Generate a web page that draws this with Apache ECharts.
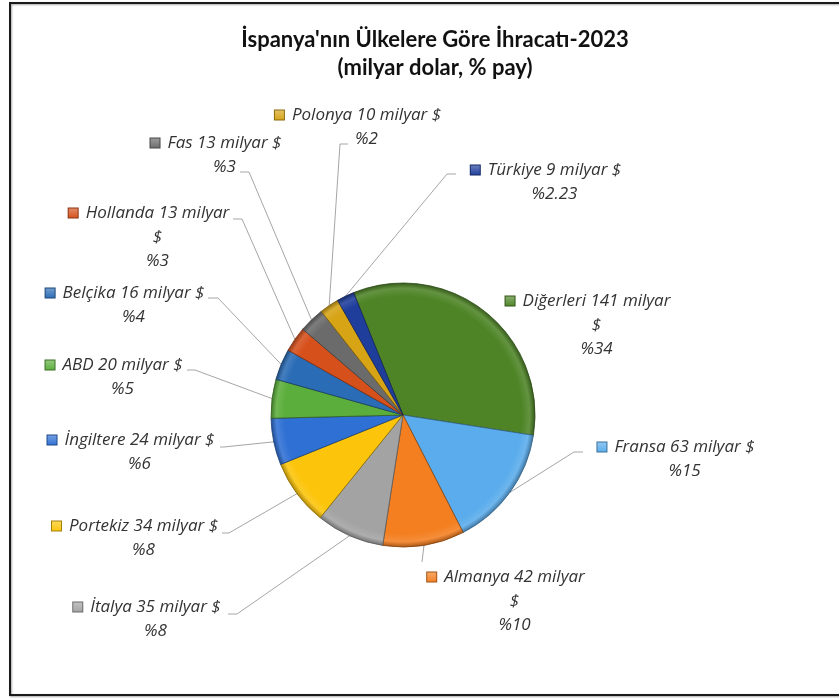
<!DOCTYPE html>
<html>
<head>
<meta charset="utf-8">
<style>
  html, body { margin: 0; padding: 0; background: #fff; }
  #chart { width: 839px; height: 700px; }
</style>
<script src="https://cdn.jsdelivr.net/npm/echarts@6/dist/echarts.min.js"></script>
</head>
<body>
<div id="chart"></div>
<script>
// veriler
const countries = ['Diğerleri', 'Fransa', 'Almanya', 'İtalya', 'Portekiz', 'İngiltere', 'ABD', 'Belçika', 'Hollanda', 'Fas', 'Polonya', 'Türkiye'];
const exportsBn = [141, 63, 42, 35, 34, 24, 20, 16, 13, 13, 10, 9];
const shareLabels = ['34', '15', '10', '8', '8', '6', '5', '4', '3', '3', '2', '2.23'];
const wrapped = ['Diğerleri', 'Almanya', 'Hollanda'];

const colors = ['#4e8426', '#5aacec', '#f47f20', '#a3a3a3', '#fcc40a', '#2f70d4', '#5cae3c', '#2a6cb6', '#d6501c', '#6b6b6b', '#d7a416', '#1f3e9c'];

// etiket yerleşimi (blok merkezi x, üst y) ve kılavuz çizgi uçları
const labelPos = [[588, 289], [676, 435], [506, 565], [147, 595], [135, 514], [131, 428], [114, 353], [125, 281], [149, 201], [216, 131], [358, 103], [546, 158]];
const lineEnd = [null, [583, 452], [422, 562], [228, 614], [222, 533], [220, 447], [187, 370], [208, 298], [233, 219], [240, 172], [348, 144], [456, 174]];
const elbowDx = [0, -9, 0, 9, 7, 4, 8, 10, 9, 9, -8, -9];

const pieCenter = [403, 415];
const pieRadius = 132;

function shade(hex, f) {
    const n = parseInt(hex.slice(1), 16);
    const ch = [n >> 16, (n >> 8) & 255, n & 255].map(function (c) {
        return Math.max(0, Math.min(255, Math.round(f < 0 ? c * (1 + f) : c + (255 - c) * f)));
    });
    return 'rgb(' + ch.join(',') + ')';
}

const rich = {
    t: { fontFamily: 'Open Sans', fontStyle: 'italic', fontSize: 17, color: '#333', lineHeight: 24 },
    g: { width: 8, height: 9 },
    s: { width: 17, height: 9 }
};
colors.forEach(function (c, i) {
    rich['m' + i] = {
        width: 9, height: 9, borderColor: shade(c, -0.35), borderWidth: 1,
        backgroundColor: {
            type: 'linear', x: 0, y: 0, x2: 0, y2: 1,
            colorStops: [{ offset: 0, color: shade(c, 0.35) }, { offset: 1, color: c }]
        }
    };
});

const myChart = echarts.init(document.getElementById('chart'));
const option = {
    animation: false,
    backgroundColor: '#fff',
    graphic: [
        {
            type: 'polyline',
            shape: { points: [[839, 3], [10, 3], [10, 695], [839, 695]] },
            style: { fill: 'none', stroke: '#1a1a1a', lineWidth: 2, shadowBlur: 2, shadowColor: 'rgba(0,0,0,0.35)', shadowOffsetX: 1, shadowOffsetY: 1 }
        },
        {
            type: 'text',
            x: 435,
            y: 54,
            style: {
                text: "İspanya'nın Ülkelere Göre İhracatı-2023\n(milyar dolar, % pay)",
                align: 'center', verticalAlign: 'middle',
                font: 'bold 22px Lato', lineHeight: 28, fill: '#111'
            }
        }
    ],
    series: [
        {
            type: 'pie',
            center: pieCenter,
            radius: pieRadius,
            startAngle: 112,
            clockwise: true,
            avoidLabelOverlap: false,
            data: countries.map(function (name, i) {
                const c = colors[i];
                return {
                    name: name,
                    value: exportsBn[i],
                    itemStyle: {
                        color: {
                            type: 'radial', x: pieCenter[0], y: pieCenter[1], r: pieRadius, global: true,
                            colorStops: [
                                { offset: 0, color: c },
                                { offset: 0.9, color: c },
                                { offset: 0.96, color: shade(c, 0.12) },
                                { offset: 1, color: shade(c, -0.3) }
                            ]
                        },
                        borderColor: shade(c, -0.45),
                        borderWidth: 0.8
                    },
                    labelLine: { show: lineEnd[i] !== null }
                };
            }),
            label: {
                show: true,
                position: 'outside',
                rich: rich,
                formatter: function (p) {
                    const i = p.dataIndex;
                    const head = '{m' + i + '|}{g|}{t|' + p.name + ' ' + exportsBn[i] + ' milyar';
                    const dollar = wrapped.indexOf(p.name) >= 0 ? '}\n{s|}{t|$}' : ' $}';
                    return head + dollar + '\n{s|}{t|%' + shareLabels[i] + '}';
                }
            },
            labelLine: {
                show: true,
                lineStyle: { color: '#a6a6a6', width: 1 }
            },
            labelLayout: function (params) {
                const i = params.dataIndex;
                const res = { x: labelPos[i][0], y: labelPos[i][1], align: 'center', verticalAlign: 'top' };
                const end = lineEnd[i];
                if (end && params.labelLinePoints) {
                    const start = params.labelLinePoints[0];
                    res.labelLinePoints = [start, [end[0] + elbowDx[i], end[1]], end];
                }
                return res;
            }
        }
    ]
};
myChart.setOption(option);
</script>
</body>
</html>
